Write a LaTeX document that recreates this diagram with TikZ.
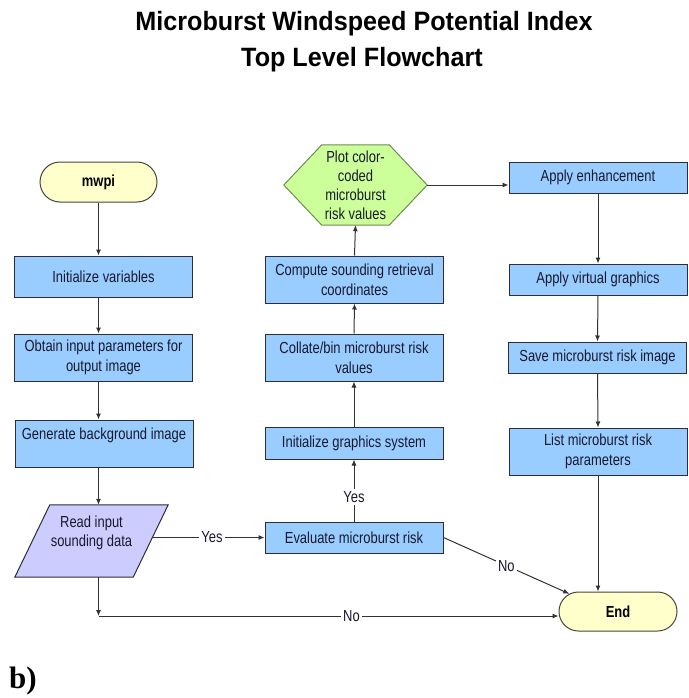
\documentclass[tikz,border=0pt]{standalone}
\usepackage{fontspec}
\setmainfont{Liberation Sans}[FakeStretch=0.81]
\newfontfamily\titlefont{Liberation Sans}[FakeStretch=0.95]
\newfontfamily\seriffont{Liberation Serif}
\usetikzlibrary{arrows.meta,shapes.misc,backgrounds,calc}
\definecolor{boxblue}{RGB}{153,204,255}
\definecolor{termyellow}{RGB}{255,255,204}
\definecolor{hexgreen}{RGB}{204,255,153}
\definecolor{hexline}{RGB}{110,140,80}
\definecolor{paralav}{RGB}{204,204,255}
\definecolor{boxline}{RGB}{45,45,55}
\definecolor{termline}{RGB}{70,70,60}
\definecolor{linegray}{RGB}{50,50,50}
\definecolor{txt}{RGB}{25,25,45}
\tikzset{
  boxfont/.style={font=\fontsize{16}{20}\selectfont},
  stepbox/.style={draw=boxline, fill=boxblue, line width=1pt, minimum width=178pt,
    align=center, inner sep=0pt, text=txt, boxfont},
  termbox/.style={rounded rectangle, draw=termline, fill=termyellow, line width=1pt,
    minimum width=117pt, minimum height=40pt, inner sep=0pt, text=black,
    font=\fontsize{16}{20}\selectfont\bfseries},
  plain/.style={draw=none, align=center, inner sep=0pt, text=txt},
  arr/.style={draw=linegray, line width=1pt, -{Latex[length=6pt,width=5pt]}},
  lbl/.style={fill=white, inner sep=2.5pt, text=txt, boxfont},
}
\begin{document}
\begin{tikzpicture}[x=1pt,y=-1pt]
\useasboundingbox (0,0) rectangle (688,698);

% title
\node[anchor=base, inner sep=0pt, font=\titlefont\fontsize{26.5}{30}\selectfont\bfseries] (t1) at (364,31) {Microburst Windspeed Potential Index};
\node[anchor=base, inner sep=0pt, font=\titlefont\fontsize{26.5}{30}\selectfont\bfseries] (t2) at (362,67) {Top Level Flowchart};

% left column
\node[termbox] (mwpi) at (98.5,182) {mwpi};
\node[stepbox, minimum height=41pt] (init) at (103.5,276.5) {Initialize variables};
\node[stepbox, minimum height=47pt] (obtain) at (103.5,357.5) {Obtain input parameters for\\output image};
\node[stepbox, minimum height=47pt] (genbg) at (104,443.5) {Generate background image\\\mbox{}};
\node[plain, minimum width=118pt, minimum height=72pt, font=\fontsize{16}{19}\selectfont] (read) at (91.5,541) {Read input\\sounding data\\\mbox{}};

% middle column
\node[plain, minimum width=143pt, minimum height=80pt, font=\fontsize{16}{19}\selectfont] (hex) at (355.5,185) {Plot color-\\coded\\microburst\\risk values};
\node[stepbox, minimum height=47pt] (compute) at (354.5,279.5) {Compute sounding retrieval\\coordinates};
\node[stepbox, minimum height=47pt] (collate) at (354,357.5) {Collate/bin microburst risk\\values};
\node[stepbox, minimum height=32pt] (ginit) at (354,443) {Initialize graphics system};
\node[stepbox, minimum height=31pt] (eval) at (354,537.5) {Evaluate microburst risk};

% right column
\node[stepbox, minimum height=31pt] (enh) at (598,177.5) {Apply enhancement};
\node[stepbox, minimum height=31pt] (virt) at (598,279.5) {Apply virtual graphics};
\node[stepbox, minimum height=31pt] (save) at (597.5,357.5) {Save microburst risk image};
\node[stepbox, minimum height=47pt] (list) at (598,451.5) {List microburst risk\\parameters};
\node[termbox, minimum width=118pt, minimum height=39pt] (end) at (618,611.5) {End};

\node[anchor=base west, inner sep=0pt, font=\seriffont\fontsize{31}{34}\selectfont\bfseries] (blabel) at (9,688) {b)};

% shapes on background
\begin{scope}[on background layer]
\fill[white] (0,0) rectangle (688,698);
\path[fill=paralav, draw=boxline, line width=1pt]
  ($(read.south west)+(-17.5,0)$) -- ($(read.north west)+(17.5,0)$) --
  ($(read.north east)+(17.5,0)$) -- ($(read.south east)+(-17.5,0)$) -- cycle;
\path[fill=hexgreen, draw=hexline, line width=1pt]
  (hex.west) -- ($(hex.north west)+(38,0)$) -- ($(hex.north east)+(-38,0)$) --
  (hex.east) -- ($(hex.south east)+(-38,0)$) -- ($(hex.south west)+(38,0)$) -- cycle;
\end{scope}

% connectors left
\draw[arr] (mwpi.south) -- (mwpi.south |- init.north);
\draw[arr] (mwpi.south |- init.south) -- (mwpi.south |- obtain.north);
\draw[arr] (mwpi.south |- obtain.south) -- (mwpi.south |- genbg.north);
\draw[arr] (mwpi.south |- genbg.south) -- (mwpi.south |- read.north);
\coordinate (corner) at (98.5,616);
\draw[arr] (mwpi.south |- read.south) -- (corner);
\draw[arr] (corner) -- node[lbl, pos=0.55] {No} (corner -| end.west);
\draw[arr] ([xshift=2pt]read.east |- eval.west) -- node[lbl, pos=0.53] {Yes} (eval.west);

% connectors middle
\draw[arr] (eval.north) -- node[lbl, pos=0.4] {Yes} (ginit.south);
\draw[arr] (ginit.north) -- (collate.south);
\draw[arr] (collate.north) -- (compute.south);
\draw[arr] (compute.north) -- (hex.south);
\draw[arr] (hex.east) -- (hex.east -| enh.west);
\draw[arr] (eval.east) -- node[lbl] {No} (end.160);

% connectors right
\draw[arr] (enh.south) -- (virt.north);
\draw[arr] (virt.south) -- (save.north);
\draw[arr] (save.south) -- (list.north);
\draw[arr] (list.south) -- (list.south |- end.north);
\end{tikzpicture}
\end{document}
